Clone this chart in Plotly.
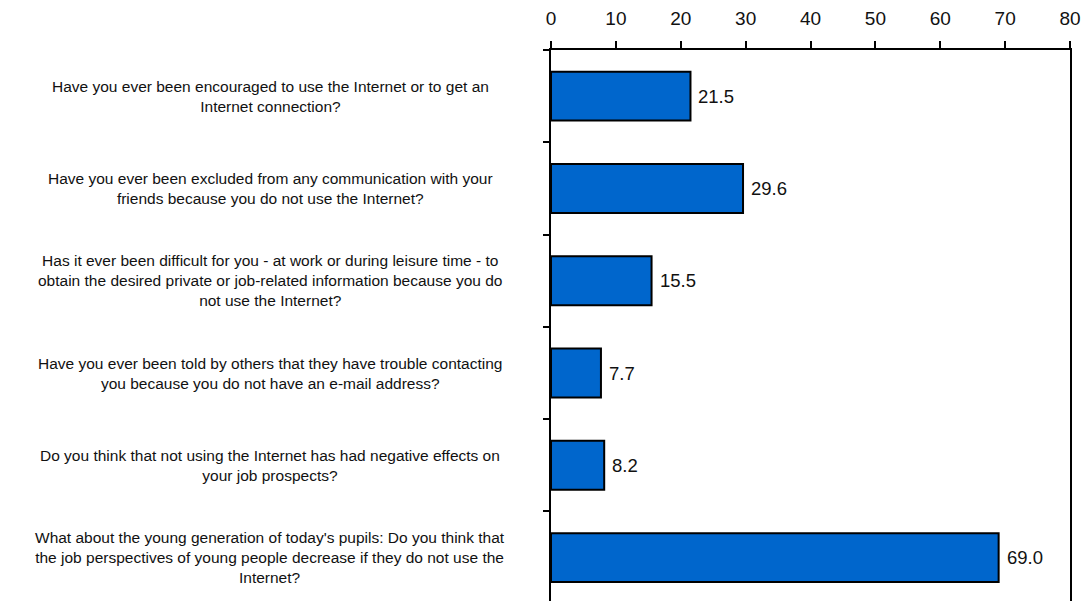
import plotly.graph_objects as go

questions = [
    "Have you ever been encouraged to use the Internet or to get an<br>Internet connection?",
    "Have you ever been excluded from any communication with your<br>friends because you do not use the Internet?",
    "Has it ever been difficult for you - at work or during leisure time - to<br>obtain the desired private or job-related information because you do<br>not use the Internet?",
    "Have you ever been told by others that they have trouble contacting<br>you because you do not have an e-mail address?",
    "Do you think that not using the Internet has had negative effects on<br>your job prospects?",
    "What about the young generation of today's pupils: Do you think that<br>the job perspectives of young people decrease if they do not use the<br>Internet?",
]
values = [21.5, 29.6, 15.5, 7.7, 8.2, 69.0]
x_ticks = [0, 10, 20, 30, 40, 50, 60, 70, 80]

positions = list(range(len(questions)))
boundaries = [p + 0.5 for p in positions[:-1]] + [-0.5]

FONT = "Liberation Sans, Arial, sans-serif"
TEXT = "#111111"

fig = go.Figure(
    go.Bar(
        x=values,
        y=positions,
        orientation="h",
        width=0.53,
        marker=dict(color="#0066CC", line=dict(color="#000000", width=2)),
        hoverinfo="skip",
    )
)

# value labels just past the end of each bar
for pos, v in zip(positions, values):
    fig.add_annotation(
        x=v, xref="x", y=pos, yref="y", text=f"{v:.1f}",
        showarrow=False, xanchor="left", yanchor="middle", xshift=6,
        font=dict(family=FONT, size=18.5, color=TEXT),
    )

# question labels, each line centred in a common column left of the plot
for pos, q in zip(positions, questions):
    fig.add_annotation(
        x=-0.5414, xref="paper", y=pos, yref="y",
        text=q, showarrow=False, xanchor="center", yanchor="middle",
        align="center", font=dict(family=FONT, size=15.5, color=TEXT),
    )

fig.update_layout(
    width=1086, height=601,
    margin=dict(l=551, r=16, t=50, b=0),
    paper_bgcolor="white", plot_bgcolor="white",
    showlegend=False,
    xaxis=dict(
        side="top", range=[0, 80], tickvals=x_ticks,
        ticks="outside", ticklen=7, tickwidth=2, tickcolor="black",
        showline=True, linecolor="black", linewidth=2, mirror=False,
        showgrid=False, zeroline=False, ticklabelstandoff=8,
        tickfont=dict(family=FONT, size=19, color=TEXT),
    ),
    yaxis=dict(
        range=[5.47, -0.5], tickvals=boundaries, showticklabels=False,
        ticks="outside", ticklen=6, tickwidth=2, tickcolor="black",
        showline=True, linecolor="black", linewidth=2, mirror=True,
        showgrid=False, zeroline=False,
    ),
)

fig.write_html("out.html")
